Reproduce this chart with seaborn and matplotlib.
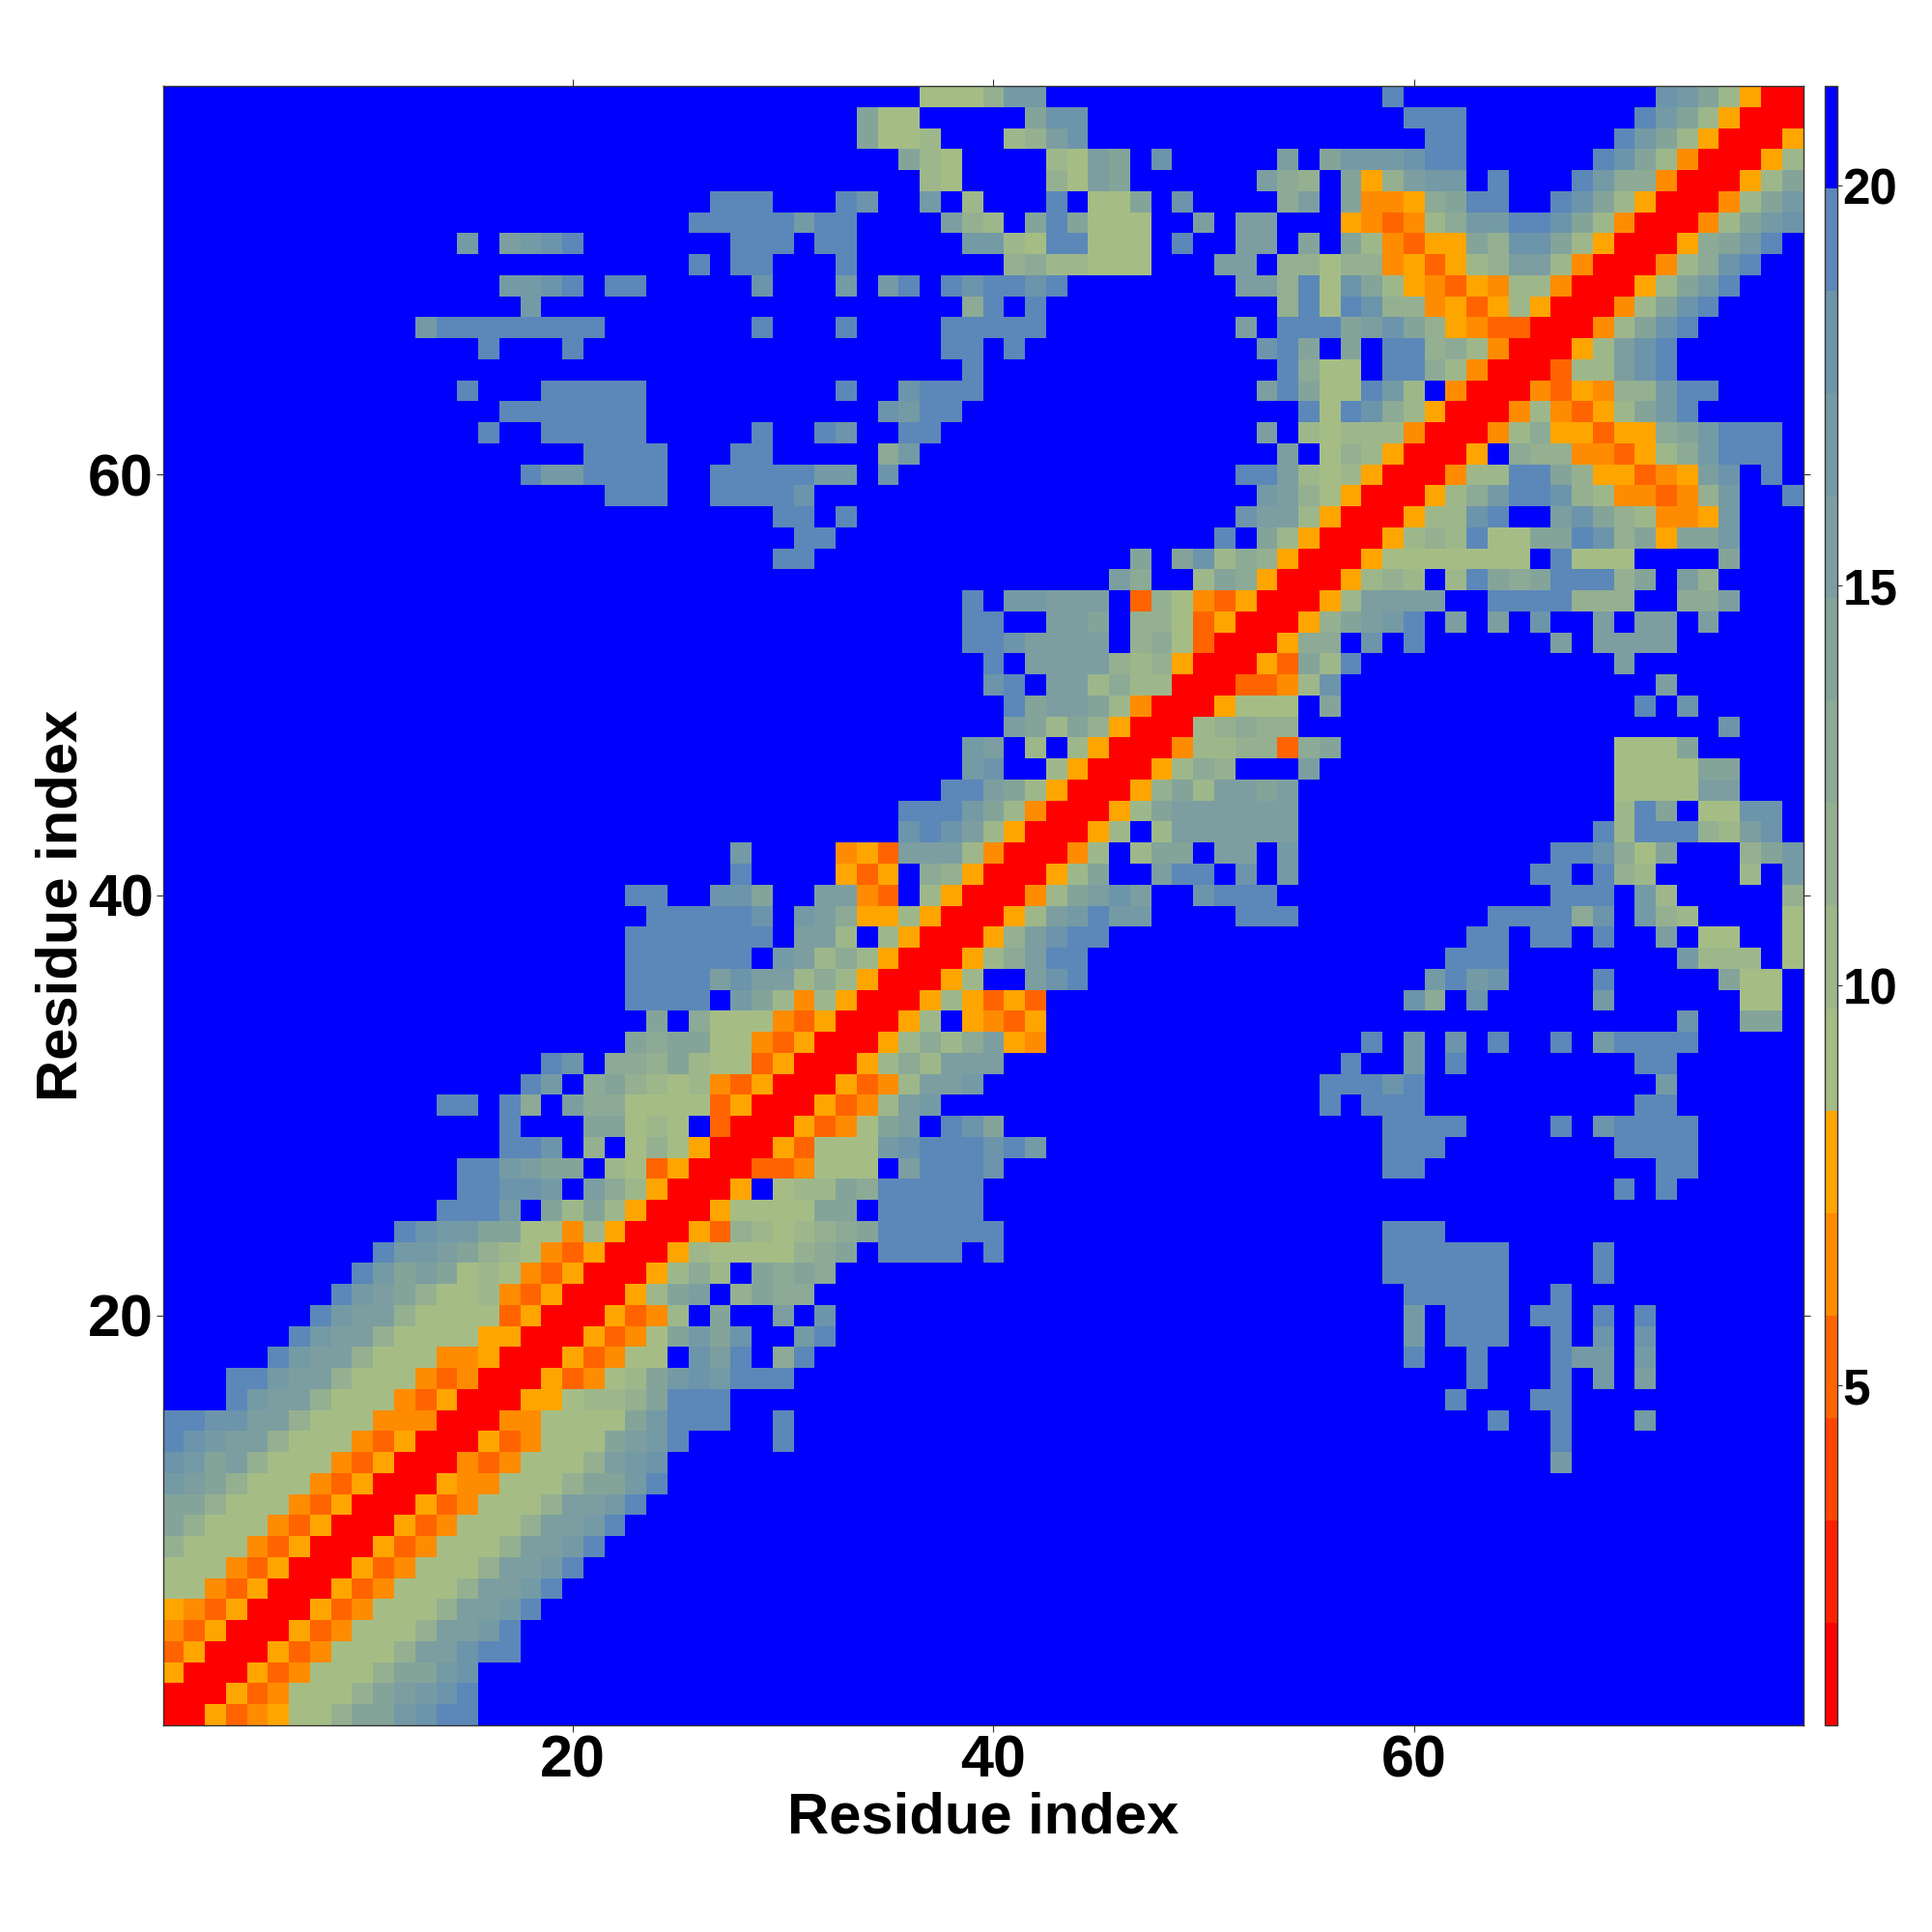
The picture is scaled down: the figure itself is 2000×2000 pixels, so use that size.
import matplotlib
matplotlib.use("Agg")
import matplotlib.pyplot as plt
import numpy as np
import seaborn as sns
from matplotlib.colors import ListedColormap

N_RESIDUES = 78

# distance shown by each colour class, one hex digit per class in the rows below
DISTANCE_BINS = [1.4, 2.7, 4.0, 5.2, 6.5, 7.8, 9.1, 10.4, 11.6, 12.9, 14.2, 15.5, 16.8, 18.1, 19.4, 20.6]
BIN_COLORS = [
    "#FF0000", "#FF2000", "#FF4500", "#FF6400", "#FF8C00", "#FFA500",
    "#A5BD85", "#9EB78A", "#95B090", "#8CAA95", "#84A49A", "#7C9EA0",
    "#749AA5", "#6C94AB", "#5B88B8", "#0000FF",
]
COLORBAR_TICKS = [5, 10, 15, 20]
RESIDUE_TICKS = [20, 40, 60]

# upper triangle only, the map is symmetric: per row (first column, class digits)
DISTANCE_ROWS = {
    1: [(1, "005345668aacdee")],
    2: [(2, "005346668abcde")],
    3: [(3, "005346668aacd")],
    4: [(4, "005346668bbdee")],
    5: [(5, "005346668bbce")],
    6: [(6, "005346668bbce")],
    7: [(7, "005346668bbce")],
    8: [(8, "005346668bbce")],
    9: [(9, "005346668bbce")],
    10: [(10, "005346668bbce")],
    11: [(11, "005346668bbce")],
    12: [(12, "005446668aace")],
    13: [(13, "004346668bcd"), (67, "c")],
    14: [(14, "00534666abce"), (30, "e"), (67, "e")],
    15: [(15, "00446666aceee"), (30, "e"), (64, "e"), (67, "e"), (71, "c")],
    16: [(16, "00556778aeee"), (62, "e"), (66, "ee")],
    17: [(17, "0053467acdceee"), (63, "e"), (67, "e"), (69, "c"), (71, "b")],
    18: [(18, "0053466fdbef9e"), (60, "e"), (63, "e"), (67, "ecc"), (71, "c")],
    19: [(19, "005346acadffce"), (60, "cfeee"), (67, "efd"), (71, "d")],
    20: [(20, "005347faffbfd"), (60, "cfeee"), (66, "ee"), (69, "e"), (71, "e")],
    21: [(21, "0057abf8a99"), (60, "eeeee"), (67, "e")],
    22: [(22, "005797fa9a9"), (59, "eeeeee"), (69, "e")],
    23: [(23, "0057666689afeeeefe"), (59, "eeeeee"), (69, "e")],
    24: [(24, "0053876789aeeeeee"), (59, "eee")],
    25: [(25, "0056666aafeeeee")],
    26: [(26, "005f677a9eeeee"), (70, "efe")],
    27: [(27, "00334666fbeeed"), (59, "ee"), (72, "ee")],
    28: [(28, "0053666cdeeedec"), (59, "eee"), (70, "eeee")],
    29: [(29, "005346abfeda"), (59, "eeee"), (67, "e"), (69, "deeee")],
    30: [(30, "005347bc"), (56, "efeee"), (71, "ee")],
    31: [(31, "005347bbc"), (56, "eeede"), (72, "c")],
    32: [(32, "005797bbb"), (57, "e"), (60, "c"), (62, "e"), (71, "ee")],
    33: [(33, "0057979b54"), (58, "e"), (60, "c"), (62, "d"), (64, "e"), (67, "e"), (69, "ceeee")],
    34: [(34, "0057f5435"), (73, "d"), (76, "aa")],
    35: [(35, "00575353"), (60, "d9"), (63, "d"), (69, "c"), (76, "66")],
    36: [(36, "0057ffbde"), (61, "cecd"), (69, "e"), (75, "a66")],
    37: [(37, "00579bee"), (62, "eee"), (73, "c777"), (78, "6")],
    38: [(38, "0058bdee"), (63, "ee"), (66, "ee"), (69, "e"), (72, "b"), (74, "66"), (78, "6")],
    39: [(39, "0057bcecc"), (52, "eee"), (64, "eeee"), (68, "9d"), (71, "c87"), (78, "6")],
    40: [(40, "0047abdb"), (50, "deee"), (67, "eee"), (71, "c7"), (78, "8")],
    41: [(41, "0057affbeefdfc"), (66, "ee"), (69, "e87"), (76, "7"), (78, "c")],
    42: [(42, "0047f7aafbbfc"), (67, "eed96a"), (76, "8ac")],
    43: [(43, "0057f7bbbbbb"), (69, "e7eee87bd")],
    44: [(44, "0057abbbbbb"), (70, "7eaf66dd")],
    45: [(45, "0058a7bbab"), (70, "6666bb")],
    46: [(46, "005798"), (55, "b"), (70, "6666aa")],
    47: [(47, "004778839a"), (70, "666a")],
    48: [(48, "0078988"), (75, "d")],
    49: [(49, "005666"), (56, "a"), (71, "e"), (73, "d")],
    50: [(50, "003347d"), (72, "b")],
    51: [(51, "0053a7e"), (70, "b")],
    52: [(52, "00599fdfe"), (67, "b"), (69, "bbbb")],
    53: [(53, "0058abce"), (62, "bfb"), (66, "d"), (69, "b"), (71, "bb"), (74, "b")],
    54: [(54, "0057bbbb"), (64, "eeee888"), (73, "99b")],
    55: [(55, "005787f7ea9aeee8afb8")],
    56: [(56, "0056666666fe666"), (75, "a")],
    57: [(57, "005787e66aaed8a5aac")],
    58: [(58, "00577deffbda87445c")],
    59: [(59, "00579ceed8744348cffe")],
    60: [(60, "00477eea855345bdfe")],
    61: [(61, "005f988443579ceee")],
    62: [(62, "00479553559aceee")],
    63: [(63, "00474357ace")],
    64: [(64, "00435488cee")],
    65: [(65, "00377bde")],
    66: [(66, "0057bde")],
    67: [(67, "0047ade")],
    68: [(68, "0047ade")],
    69: [(69, "0057ace")],
    70: [(70, "00479de")],
    71: [(71, "0059ace")],
    72: [(72, "0047acd")],
    73: [(73, "0047ac")],
    74: [(74, "0057a")],
    75: [(75, "0057")],
    76: [(76, "005")],
    77: [(77, "00")],
    78: [(78, "0")],
}


def build_matrix():
    classes = np.full((N_RESIDUES, N_RESIDUES), 15, dtype=int)
    for row, segments in DISTANCE_ROWS.items():
        for first_col, digits in segments:
            for offset, digit in enumerate(digits):
                col = first_col + offset
                classes[row - 1, col - 1] = int(digit, 16)
                classes[col - 1, row - 1] = int(digit, 16)
    return np.array(DISTANCE_BINS)[classes]


sns.set_theme(style="white")
plt.rcParams["font.family"] = ["Liberation Sans", "DejaVu Sans"]

fig = plt.figure(figsize=(10, 10), dpi=200, facecolor="white")
ax = fig.add_axes([168.5 / 2000, 1 - 1786 / 2000, 1698 / 2000, 1697 / 2000])
cax = fig.add_axes([1889 / 2000, 1 - 1786 / 2000, 13 / 2000, 1697 / 2000])

sns.heatmap(
    build_matrix(),
    cmap=ListedColormap(BIN_COLORS),
    vmin=0.75,
    vmax=21.25,
    square=False,
    xticklabels=False,
    yticklabels=False,
    cbar_ax=cax,
    ax=ax,
)
ax.set_xlim(0, N_RESIDUES)
ax.set_ylim(0, N_RESIDUES)

tick_pos = [tick - 0.5 for tick in RESIDUE_TICKS]
ax.set_xticks(tick_pos, [str(tick) for tick in RESIDUE_TICKS])
ax.set_yticks(tick_pos, [str(tick) for tick in RESIDUE_TICKS])
ax.tick_params(
    axis="both", which="major", direction="out", length=2.6, width=0.4, color="#333333",
    top=True, right=True, bottom=True, left=True, labelsize=22, labelcolor="black", pad=0.8,
)
for label in ax.get_xticklabels() + ax.get_yticklabels():
    label.set_fontweight("bold")

ax.set_xlabel("Residue index", fontsize=21.5, fontweight="bold", color="black")
ax.set_ylabel("Residue index", fontsize=21.5, fontweight="bold", color="black")
ax.xaxis.set_label_coords((1018 - 168.5) / 1698, -(1882 - 1786) / 1697)
ax.yaxis.set_label_coords(-(168.5 - 64) / 1698, (1786 - 937) / 1697)
ax.xaxis.label.set_verticalalignment("center")
ax.yaxis.label.set_verticalalignment("center")

for spine in ax.spines.values():
    spine.set_visible(True)
    spine.set_linewidth(0.5)
    spine.set_edgecolor("#333333")

cbar = ax.collections[0].colorbar
cbar.set_ticks(COLORBAR_TICKS)
cbar.ax.tick_params(direction="out", length=1.8, width=0.4, color="#333333", labelsize=18.4, pad=0.2)
for label in cbar.ax.get_yticklabels():
    label.set_fontweight("bold")
    label.set_color("black")
cbar.outline.set_visible(True)
cbar.outline.set_linewidth(0.5)
cbar.outline.set_edgecolor("#333333")

fig.savefig("out.png", dpi=200, facecolor="white")
plt.close(fig)
